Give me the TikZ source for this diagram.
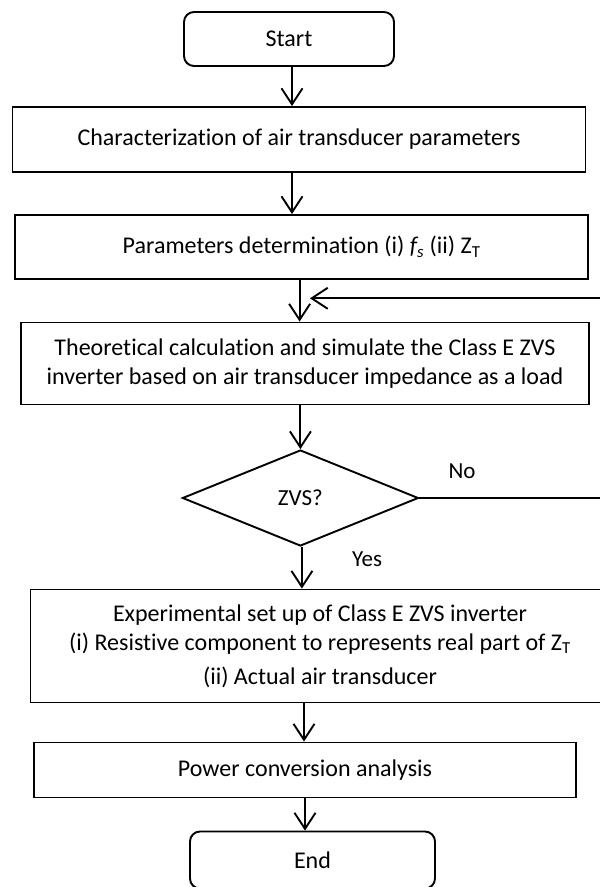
\documentclass[tikz,border=0pt]{standalone}
\usepackage{fontspec}
\setmainfont{Carlito}[Ligatures=NoCommon]
\usetikzlibrary{arrows.meta,shapes.geometric}
\tikzset{
  box/.style={draw, line width=1.9pt, inner sep=0pt, align=center},
  term/.style={box, rounded corners=10pt},
  arr/.style={line width=1.9pt, -{Straight Barb[length=16pt,width=21pt,line width=1.9pt]}},
  lbl/.style={inner sep=0pt}
}
\begin{document}
\begin{tikzpicture}[x=1pt,y=-1pt,font=\fontsize{24}{29}\selectfont]
\useasboundingbox (0,0) rectangle (600,887);
\node[term, minimum width=210pt, minimum height=54pt] (start) at (289,39) {Start};
\node[box, minimum width=573pt, minimum height=65pt] (char) at (299,139.5) {Characterization of air transducer parameters};
\node[box, minimum width=573pt, minimum height=64pt] (params) at (301.6,247) {Parameters determination (i) {\itshape f\textsubscript{s}} (ii) Z\textsubscript{T}};
\node[box, minimum width=568pt, minimum height=82pt] (theo) at (305,363.5) {Theoretical calculation and simulate the Class E ZVS\\inverter based on air transducer impedance as a load};
\node[draw, diamond, line width=1.9pt, inner sep=0pt, minimum width=236pt, minimum height=96pt, font=\fontsize{23}{25}\selectfont] (dec) at (300.4,498) {ZVS?};
\node[box, minimum width=579pt, minimum height=113pt] (exp) at (320,646) {Experimental set up of Class E ZVS inverter\\(i) Resistive component to represents real part of Z\textsubscript{T}\\[5pt](ii) Actual air transducer};
\node[box, minimum width=542pt, minimum height=55pt] (power) at (305,770) {Power conversion analysis};
\node[term, minimum width=245pt, minimum height=57pt] (end) at (312.5,860) {End};
\node[lbl, font=\fontsize{23}{25}\selectfont] (no) at (462,471) {No};
\node[lbl, font=\fontsize{23}{25}\selectfont] (yes) at (367,559) {Yes};
\coordinate (fbtip) at (310,298.3);
\draw[arr] ([xshift=3pt]start.south) -- ([xshift=3pt]start.south |- char.north);
\draw[arr] ([xshift=-7pt]char.south) -- ([xshift=-7pt]char.south |- params.north);
\draw[arr] ([xshift=-2pt]params.south) -- ([xshift=-2pt]params.south |- theo.north);
\draw[arr] (dec.north |- theo.south) -- (dec.north);
\draw[arr] ([xshift=1.5pt]dec.south) -- ([xshift=1.5pt]dec.south |- exp.north);
\draw[arr] ([xshift=-1pt]power.north |- exp.south) -- ([xshift=-1pt]power.north);
\draw[arr] (power.south) -- (power.south |- end.north);
\draw[arr] (dec.east) -- (612,498) |- (fbtip);
\end{tikzpicture}
\end{document}
